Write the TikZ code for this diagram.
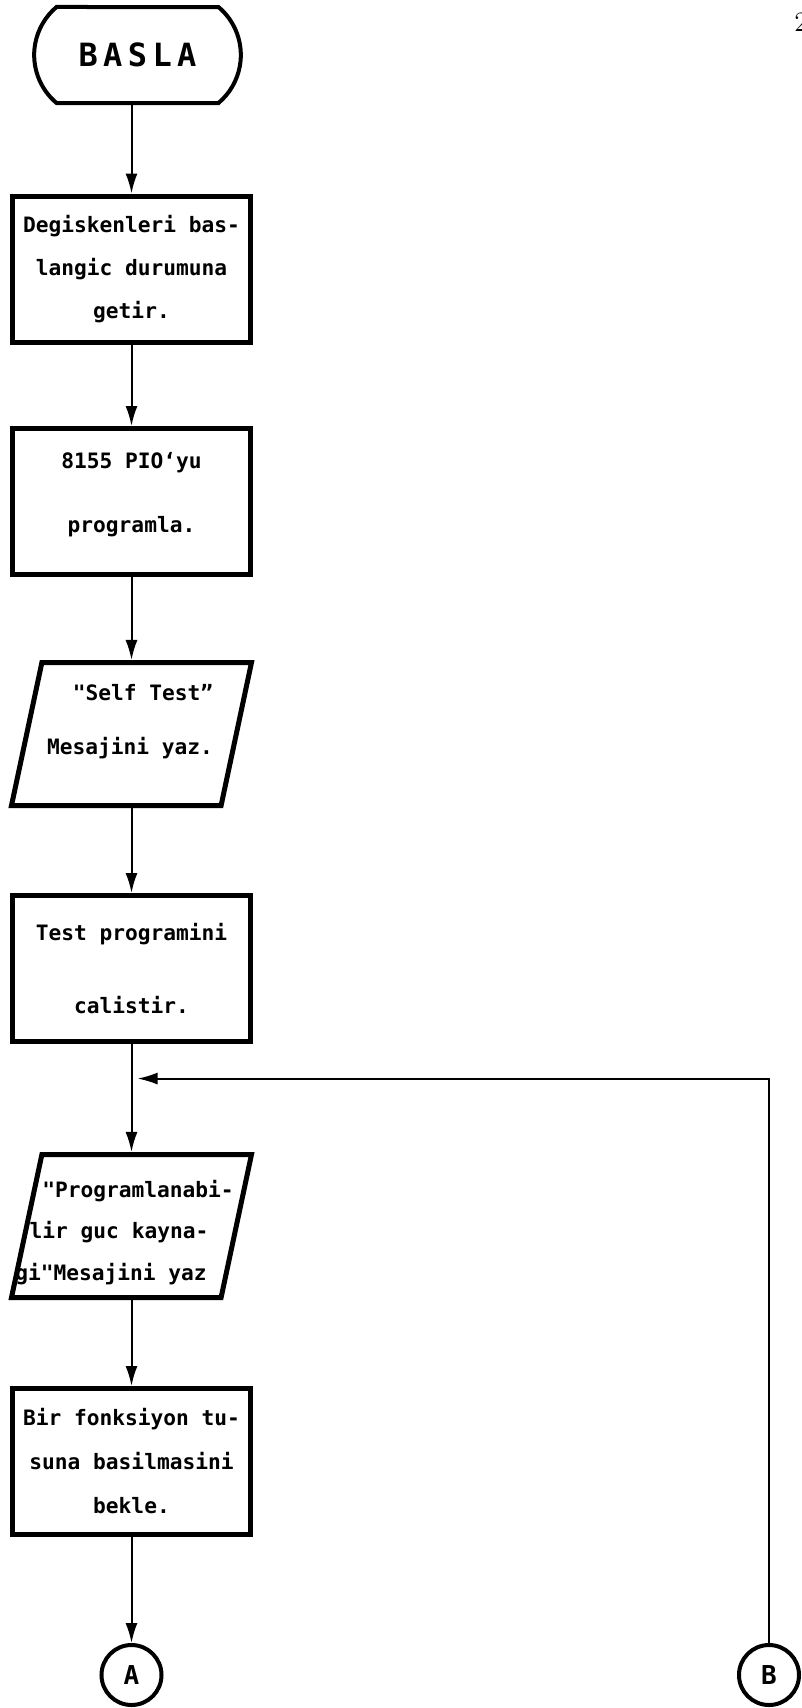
\documentclass[tikz,border=0pt]{standalone}
\usepackage{fontspec}
\setmonofont{DejaVu Sans Mono}
\usetikzlibrary{positioning,arrows.meta,calc,shapes.geometric,shapes.misc}
\newcommand{\kaydir}[2]{\makebox[0pt]{\kern#1\relax#2}}
\tikzset{
  uc/.style={rounded rectangle,rounded rectangle arc length=100,draw,line width=2pt,minimum width=110pt,minimum height=48pt,font=\fontsize{16}{16}\selectfont\ttfamily\bfseries},
  islem/.style={rectangle,draw,line width=2.5pt,minimum width=119pt,minimum height=73pt,align=center,font=\fontsize{10.6}{22}\selectfont\ttfamily\bfseries},
  cikti/.style={trapezium,trapezium left angle=78,trapezium right angle=102,trapezium stretches body,draw,line width=2.5pt,inner ysep=0pt,minimum width=120pt,align=center,font=\fontsize{10.6}{22}\selectfont\ttfamily\bfseries},
  baglac/.style={circle,draw,line width=2pt,minimum size=30pt,inner sep=0pt,font=\fontsize{13}{13}\selectfont\ttfamily\bfseries},
  ok/.style={-{Latex[length=10pt,width=6pt]},line width=1pt},
}
\begin{document}
\begin{tikzpicture}[on grid]
  \useasboundingbox (0,0) rectangle (401pt,-854pt);
  \node[uc] (basla) at (68.75pt,-27.5pt) {B\kern2.7pt A\kern2.7pt S\kern2.7pt L\kern2.7pt A};
  \node[islem] (ilkdeger) [below=107pt of basla,xshift=-3pt] {Degiskenleri bas-\\[-0.5pt]langic durumuna\\[-0.5pt]getir.};
  \node[islem,text depth=9pt] (pio) [below=116.25pt of ilkdeger] {8155 PIO‘yu\\[10pt]programla.};
  \node[cikti,text height=45.75pt,text depth=25.75pt] (selftest) [below=116.25pt of pio] {\kaydir{11.5pt}{"Self Test”}\\[5pt]\kaydir{-1.5pt}{Mesajini yaz.}};
  \node[islem] (test) [below=117.25pt of selftest] {Test programini\\[14.5pt]calistir.};
  \node[cikti,text height=62.75pt,text depth=8.75pt] (guc) [below=128.75pt of test] {\kaydir{6.5pt}{"Programlanabi-}\\[-1.25pt]\kaydir{-12.5pt}{lir guc kayna-}\\[-1.25pt]\kaydir{-20.5pt}{gi"Mesajini yaz}};
  \node[islem] (tus) [below=117.75pt of guc] {Bir fonksiyon tu-\\suna basilmasini\\bekle.};
  \node[baglac] (A) [below=106.75pt of tus] {A};
  \node[baglac] (B) [right=318.75pt of A] {B};
  \coordinate (donus) at ($(test.south)!0.32!(guc.north)$);
  \draw[ok] (basla.south -| ilkdeger) -- (ilkdeger);
  \draw[ok] (ilkdeger) -- (pio);
  \draw[ok] (pio) -- (selftest);
  \draw[ok] (selftest) -- (test);
  \draw[ok] (test) -- (guc);
  \draw[ok] (guc) -- (tus);
  \draw[ok] (tus) -- (A);
  \draw[ok] (B) |- ([xshift=3pt]donus);
  \node[anchor=west,inner sep=0pt,font=\fontsize{14}{14}\selectfont] (sayfa) at (397pt,-11pt) {2};
\end{tikzpicture}
\end{document}
